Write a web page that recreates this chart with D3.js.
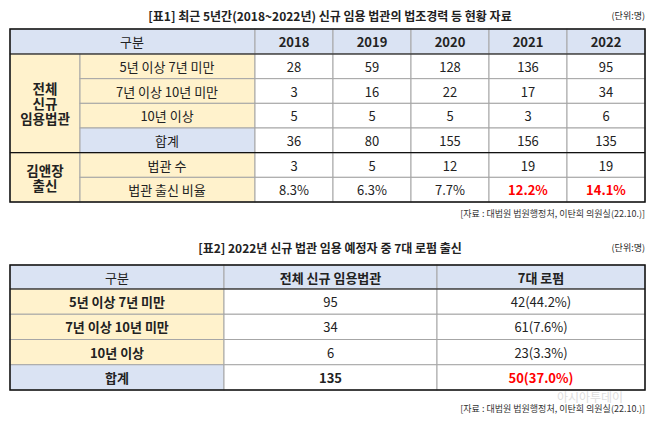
<!DOCTYPE html>
<html><head><meta charset="utf-8">
<script src="https://cdn.jsdelivr.net/npm/d3@7"></script>
<style>body{margin:0;background:#fff}text{font-family:"Noto Sans CJK KR",sans-serif}</style>
</head><body><svg class="svg" width="658" height="422"></svg>
<script>
const years = ["2018", "2019", "2020", "2021", "2022"];
const rowLabels1 = ["5년 이상 7년 미만", "7년 이상 10년 미만", "10년 이상", "합계", "법관 수", "법관 출신 비율"];
const groups1 = [["전체", "신규", "임용법관"], ["김앤장", "출신"]];
const v5to7 = [28, 59, 128, 136, 95];
const v7to10 = [3, 16, 22, 17, 34];
const v10plus = [5, 5, 5, 3, 6];
const vTotal = [36, 80, 155, 156, 135];
const vKim = [3, 5, 12, 19, 19];
const vRatio = ["8.3%", "6.3%", "7.7%", "12.2%", "14.1%"];
const redRatio = [false, false, false, true, true];

const cols2 = ["구분", "전체 신규 임용법관", "7대 로펌"];
const rowLabels2 = ["5년 이상 7년 미만", "7년 이상 10년 미만", "10년 이상", "합계"];
const total2 = [95, 34, 6, 135];
const firm2 = ["42(44.2%)", "61(7.6%)", "23(3.3%)", "50(37.0%)"];

const BLUE = "#dae3f3", YEL = "#fff2cc", RED = "#ff0000";
const svg = d3.select(".svg");

function cell(g, x, y, w, h, fill) {
  g.append("rect").attr("x", x).attr("y", y).attr("width", w).attr("height", h)
    .attr("fill", fill).attr("stroke", "#a6a6a6").attr("stroke-width", 1);
}
function txt(g, x, y, s, o = {}) {
  g.append("text").attr("x", x).attr("y", y).attr("text-anchor", o.anchor || "middle")
    .attr("dominant-baseline", "central").attr("font-size", o.size || 13)
    .attr("font-weight", o.bold ? "bold" : "normal").attr("fill", o.color || "#222").text(s);
}

// ---- table 1
const t1 = svg.append("g");
const x1 = d3.scaleBand().domain(years).range([255, 645]);
const y1 = d3.scaleLinear().domain([0, 6]).range([54, 202]);
const rh1 = y1(1) - y1(0);
txt(t1, 330, 15, "[표1] 최근 5년간(2018~2022년) 신규 임용 법관의 법조경력 등 현황 자료", { size: 12, bold: true });
txt(t1, 645, 15, "(단위:명)", { size: 9, anchor: "end" });

cell(t1, 10, 29, 245, 25, BLUE);
txt(t1, 132, 41.5, "구분");
years.forEach(yr => { cell(t1, x1(yr), 29, x1.bandwidth(), 25, BLUE); txt(t1, x1(yr) + x1.bandwidth() / 2, 41.5, yr, { bold: true }); });

const rows1 = [v5to7, v7to10, v10plus, vTotal, vKim, vRatio];
cell(t1, 10, y1(0), 70, y1(4) - y1(0), YEL);
cell(t1, 10, y1(4), 70, y1(6) - y1(4), YEL);
groups1[0].forEach((s, i) => txt(t1, 45, y1(2) + (i - 1) * 15, s, { bold: true, size: 13.5 }));
groups1[1].forEach((s, i) => txt(t1, 45, y1(5) + (i - 0.5) * 15, s, { bold: true, size: 13.5 }));
rowLabels1.forEach((lab, r) => {
  cell(t1, 80, y1(r), 175, rh1, r === 3 ? BLUE : YEL);
  txt(t1, 167, y1(r) + rh1 / 2, lab);
  years.forEach((yr, c) => {
    cell(t1, x1(yr), y1(r), x1.bandwidth(), rh1, "#fff");
    const red = r === 5 && redRatio[c];
    txt(t1, x1(yr) + x1.bandwidth() / 2, y1(r) + rh1 / 2, rows1[r][c], { color: red ? RED : "#222", bold: red });
  });
});
t1.append("rect").attr("x", 10).attr("y", 29).attr("width", 635).attr("height", 173)
  .attr("fill", "none").attr("stroke", "#111").attr("stroke-width", 1.5);
[54, y1(4)].forEach(y => t1.append("line").attr("x1", 10).attr("x2", 645).attr("y1", y).attr("y2", y)
  .attr("stroke", "#111").attr("stroke-width", 1.2));
txt(t1, 645, 213, "[자료 : 대법원 법원행정처, 이탄희 의원실(22.10.)]", { size: 9, anchor: "end", color: "#333" });

// ---- table 2
const t2 = svg.append("g");
const xs2 = [10, 224, 437, 645];
const y2 = d3.scaleLinear().domain([0, 4]).range([289, 390]);
const rh2 = y2(1) - y2(0);
txt(t2, 330, 247, "[표2] 2022년 신규 법관 임용 예정자 중 7대 로펌 출신", { size: 12, bold: true });
txt(t2, 645, 247, "(단위:명)", { size: 9, anchor: "end" });
cols2.forEach((c, i) => { cell(t2, xs2[i], 265, xs2[i + 1] - xs2[i], 24, BLUE); txt(t2, (xs2[i] + xs2[i + 1]) / 2, 277, c, { bold: i > 0 }); });
rowLabels2.forEach((lab, r) => {
  const y = y2(r), last = r === 3;
  cell(t2, xs2[0], y, xs2[1] - xs2[0], rh2, last ? BLUE : YEL);
  cell(t2, xs2[1], y, xs2[2] - xs2[1], rh2, "#fff");
  cell(t2, xs2[2], y, xs2[3] - xs2[2], rh2, "#fff");
  txt(t2, (xs2[0] + xs2[1]) / 2, y + rh2 / 2, lab, { bold: true });
  txt(t2, (xs2[1] + xs2[2]) / 2, y + rh2 / 2, total2[r], { bold: last });
  txt(t2, (xs2[2] + xs2[3]) / 2, y + rh2 / 2, firm2[r], { bold: last, color: last ? RED : "#222" });
});
t2.append("rect").attr("x", 10).attr("y", 265).attr("width", 635).attr("height", 125)
  .attr("fill", "none").attr("stroke", "#111").attr("stroke-width", 1.5);
t2.append("line").attr("x1", 10).attr("x2", 645).attr("y1", 289).attr("y2", 289).attr("stroke", "#111").attr("stroke-width", 1.2);
txt(t2, 590, 396, "아시아투데이", { size: 12, color: "#ddd" });
txt(t2, 645, 408, "[자료 : 대법원 법원행정처, 이탄희 의원실(22.10.)]", { size: 9, anchor: "end", color: "#333" });
</script></body></html>
